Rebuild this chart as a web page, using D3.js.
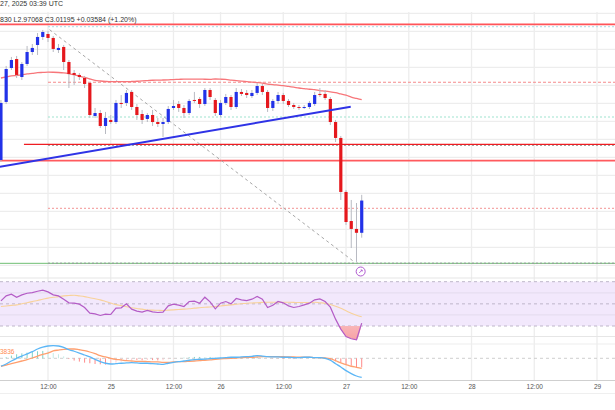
<!DOCTYPE html>
<html><head><meta charset="utf-8">
<script src="https://cdn.jsdelivr.net/npm/d3@7"></script>
<style>html,body{margin:0;padding:0;background:#fff;overflow:hidden}svg{display:block;font-family:"Liberation Sans",Arial,sans-serif}</style>
</head><body><svg id="c" width="615" height="410"></svg>
<script>
// ---------- DATA ----------
const opens  = [3.0570,3.1215,3.1592,3.1692,3.1492,3.1637,3.1770,3.1848,3.1937,3.1970,3.1926,3.1792,3.1826,3.1659,3.1537,3.1515,3.1481,3.1426,3.1059,3.1092,3.0948,3.1015,3.0992,3.1204,3.1204,3.1326,3.1159,3.1081,3.1026,3.1070,3.0992,3.0970,3.0992,3.1148,3.1192,3.1148,3.1092,3.1237,3.1248,3.1192,3.1348,3.1237,3.1070,3.1204,3.1270,3.1159,3.1326,3.1315,3.1281,3.1315,3.1392,3.1326,3.1148,3.1226,3.1292,3.1226,3.1181,3.1159,3.1148,3.1159,3.1192,3.1304,3.1304,3.1248,3.0992,3.0815,3.0215,2.9892,2.9804,2.97611];
const highs  = [3.1237,3.1615,3.1715,3.1726,3.1659,3.1837,3.1859,3.1981,3.2015,3.2004,3.1948,3.1859,3.1848,3.1681,3.1570,3.1537,3.1504,3.1437,3.1148,3.1126,3.1104,3.1070,3.1237,3.1292,3.1348,3.1348,3.1192,3.1126,3.1092,3.1126,3.1037,3.1037,3.1170,3.1237,3.1226,3.1181,3.1248,3.1326,3.1270,3.1370,3.1370,3.1259,3.1237,3.1304,3.1292,3.1370,3.1359,3.1348,3.1348,3.1426,3.1415,3.1348,3.1248,3.1326,3.1315,3.1248,3.1204,3.1181,3.1181,3.1226,3.1326,3.1370,3.1348,3.1270,3.1015,3.0837,3.0237,3.0126,3.0092,3.0183];
const lows   = [3.0548,3.1192,3.1570,3.1481,3.1459,3.1615,3.1737,3.1737,3.1904,3.1881,3.1770,3.1759,3.1570,3.1370,3.1404,3.1459,3.1370,3.1037,3.1037,3.0926,3.0859,3.0970,3.0970,3.1148,3.1170,3.1126,3.1015,3.0970,3.0992,3.0948,3.0937,3.0826,3.0970,3.1126,3.1104,3.1037,3.1070,3.1204,3.1148,3.1170,3.1237,3.1059,3.1048,3.1181,3.1126,3.1137,3.1281,3.1259,3.1259,3.1292,3.1292,3.1104,3.1115,3.1192,3.1192,3.1159,3.1137,3.1126,3.1137,3.1137,3.1170,3.1270,3.1237,3.0959,3.0770,3.0126,2.9848,2.9592,2.9437,2.97068];
const closes = [3.1204,3.1581,3.1681,3.1515,3.1637,3.1770,3.1815,3.1937,3.1992,3.1926,3.1804,3.1815,3.1659,3.1526,3.1515,3.1492,3.1415,3.1070,3.1092,3.0948,3.1037,3.0992,3.1204,3.1192,3.1315,3.1159,3.1070,3.1015,3.1070,3.0992,3.0970,3.0992,3.1137,3.1170,3.1148,3.1092,3.1226,3.1226,3.1192,3.1348,3.1270,3.1092,3.1204,3.1270,3.1159,3.1326,3.1304,3.1292,3.1315,3.1392,3.1326,3.1148,3.1226,3.1292,3.1226,3.1181,3.1159,3.1148,3.1159,3.1204,3.1292,3.1292,3.1259,3.0992,3.0815,3.0215,2.9881,2.9804,2.97611,3.01195];
const maValues = [3.1481,3.1493,3.1505,3.1509,3.1515,3.1526,3.1532,3.1540,3.1543,3.1546,3.1545,3.1542,3.1537,3.1528,3.1515,3.1503,3.1488,3.1470,3.1455,3.1448,3.1443,3.1440,3.1440,3.1440,3.1440,3.1442,3.1445,3.1450,3.1453,3.1456,3.1457,3.1459,3.1461,3.1464,3.1466,3.1469,3.1469,3.1469,3.1469,3.1467,3.1466,3.1470,3.1468,3.1465,3.1458,3.1452,3.1446,3.1441,3.1436,3.1430,3.1423,3.1412,3.1408,3.1402,3.1396,3.1387,3.1379,3.1370,3.1364,3.1356,3.1351,3.1342,3.1336,3.1328,3.1318,3.1304,3.1290,3.1268,3.1254,3.1240];
const rsiValues = [52.7,57.2,58.7,56.0,58.1,59.6,60.2,61.4,62.3,60.8,58.1,57.2,54.2,50.9,50.6,49.7,46.7,41.6,41.0,39.5,40.7,40.4,46.1,46.4,50.0,45.2,43.4,42.5,44.0,42.8,42.2,42.5,48.2,49.7,48.8,47.6,52.1,52.4,50.6,56.0,51.8,45.5,50.6,52.1,50.0,54.8,53.6,53.0,54.2,56.6,54.2,46.7,48.8,52.1,50.9,48.2,46.7,47.6,49.1,50.6,53.6,54.5,52.1,47.0,36.2,27.2,20.5,18.5,17.6,32.6];
const rsiMA = [47.6,48.1,48.6,49.1,50.1,51.0,52.0,53.1,54.1,55.2,55.9,56.5,57.2,57.5,57.8,57.2,56.5,55.5,54.6,53.6,52.2,50.7,49.3,48.4,47.4,46.5,45.8,45.2,44.5,44.3,44.2,44.0,44.3,44.6,44.9,45.2,45.6,46.1,46.5,46.9,47.2,47.6,48.1,48.6,49.1,49.6,50.1,50.6,50.8,51.0,51.3,51.5,51.5,51.5,51.5,51.4,51.3,51.2,51.2,51.0,51.5,51.0,50.6,49.5,47.9,46.0,43.7,41.5,39.8,38.3];
const macdLine = [-5.3,-3.8,-1.8,0,1.5,2.9,4.4,6.2,7.5,8.2,8.4,8.2,7.3,5.7,4.7,3.5,2.2,0.9,-0.7,-2.2,-3.3,-3.8,-3.6,-3.3,-3.1,-2.9,-3.1,-3.3,-3.3,-3.6,-3.8,-4.0,-3.3,-2.7,-2.2,-1.8,-1.3,-0.9,-0.7,-0.5,-0.2,0,0.2,0.4,0.7,0.7,0.9,1.1,1.3,1.8,1.5,1.1,0.9,0.9,0.7,0.7,0.4,0.4,0.7,0.7,0.4,0.4,0,-1.3,-3.6,-5.8,-8.2,-10.2,-11.8,-12.7];
const signalLine = [-5.3,-4.5,-3.6,-2.7,-1.8,-0.9,0.2,1.5,2.6,3.5,4.9,5.5,6.0,6.2,6.2,5.7,5.1,4.2,3.1,1.8,0.9,0,-0.7,-1.1,-1.6,-1.8,-2.0,-2.0,-2.2,-2.4,-2.4,-2.7,-2.7,-2.4,-2.2,-2.2,-2.0,-1.8,-1.6,-1.3,-1.1,-0.7,-0.4,-0.2,0,0.2,0.4,0.7,0.7,0.9,1.1,1.1,1.1,1.1,1.1,0.9,0.9,0.7,0.7,0.7,0.4,0.4,0.2,-0.2,-1.6,-3.1,-4.2,-5.3,-6.0,-6.7];
const histValues = [0,0.7,1.8,2.7,3.3,3.8,4.2,4.7,4.9,4.7,3.5,2.7,1.3,-0.5,-1.5,-2.2,-2.9,-3.3,-3.8,-4.0,-4.2,-3.8,-2.9,-2.2,-1.5,-1.1,-1.1,-1.3,-1.1,-1.2,-1.4,-1.3,-0.6,-0.3,0,0.4,0.7,0.9,0.9,0.8,0.9,0.7,0.6,0.6,0.7,0.5,0.5,0.4,0.6,0.9,0.4,0,-0.2,-0.2,-0.4,-0.2,-0.5,-0.3,0,0,0,0,-0.2,-1.1,-2.0,-2.7,-4.0,-4.9,-5.8,-6.0];
const tickIndex = [9,21,33,42,54,66,78,90,102,114];
const tickLabels = ["12:00","25","12:00","26","12:00","27","12:00","28","12:00","29"];
const priceGrid = [2.94,2.96,2.98,3.00,3.02,3.04,3.06,3.08,3.10,3.12,3.14,3.16,3.18,3.20,3.22];
const rsiGrid = [40,60];
const rsiBands = [70,50,30];
const fibPrices = [3.2051,3.1434,3.1048,3.0731,3.0033,2.9422];
const hLinePrices = [3.2078,3.0744,3.0564,2.9422];
const hLineStart = [-0.2,4.4,-0.2,-0.2];
const trendIdx = [-0.2,66.9];
const trendPrice = [3.0496,3.1162];
const diagIdx = [9.3,67.6];
const diagPrice = [3.2018,2.9437];
const headerLine1 = "27, 2025 03:39 UTC";
const headerLine2 = "830 L2.97068 C3.01195 +0.03584 (+1.20%)";
const macdLabel = "3836";

// ---------- STYLES ----------
const UP = "#2232e8", DOWN = "#e5181d", WICK = "#b8bac2", GRID = "#ededed";
const fibColors = ["#b9e2ec","#f58a8c","#9fe3cf","#a5a5a5","#f5a9a9","#9aa0a0"];
const fibDash = ["2,2","3,2","2,2","2,2","2,2","2,2"];
const hLineColors = ["#ff5459","#ef1c22","#ff5a5e","#6fbf73"];
const hLineWidths = [1.8,1.4,1.8,1];

const svg = d3.select("#c");
const x = d3.scaleLinear().domain([9,114]).range([48,597]);
const yP = d3.scaleLinear().domain([3.00,3.22]).range([211.3,13.3]);
const yR = d3.scaleLinear().domain([30,70]).range([326,281.7]);
const yM = d3.scaleLinear().domain([0,10]).range([358.3,343.3]);
const W = 615;

// clip for main panel
const defs = svg.append("defs");
defs.append("clipPath").attr("id","mainClip").append("rect").attr("x",0).attr("y",11).attr("width",W).attr("height",266);
const grad = defs.append("linearGradient").attr("id","osGrad").attr("x1",0).attr("y1",0).attr("x2",0).attr("y2",1);
grad.append("stop").attr("offset","0%").attr("stop-color","#ffe3e3");
grad.append("stop").attr("offset","100%").attr("stop-color","#f7a3a6");
defs.append("clipPath").attr("id","osClip").append("rect").attr("x",0).attr("y",yR(30)).attr("width",W).attr("height",40);

// ---------- gridlines ----------
const g = svg.append("g");
g.selectAll("line.hg").data(priceGrid).join("line")
  .attr("x1",0).attr("x2",W).attr("y1",d=>yP(d)).attr("y2",d=>yP(d))
  .attr("stroke",GRID).attr("stroke-width",1.3);
g.selectAll("line.vg").data(tickIndex).join("line")
  .attr("x1",d=>x(d)).attr("x2",d=>x(d)).attr("y1",12).attr("y2",380)
  .attr("stroke",GRID).attr("stroke-width",1.3);

// panel separators
[278,336.5].forEach(yy=>svg.append("line").attr("x1",0).attr("x2",W).attr("y1",yy).attr("y2",yy).attr("stroke","#e6e6e6").attr("stroke-width",1.2));
svg.append("line").attr("x1",0).attr("x2",W).attr("y1",344).attr("y2",344).attr("stroke",GRID).attr("stroke-width",1.2);

// ---------- main panel ----------
const main = svg.append("g").attr("clip-path","url(#mainClip)");

// fib levels
main.selectAll("line.fib").data(fibPrices).join("line")
  .attr("x1",x(9)).attr("x2",W).attr("y1",d=>yP(d)).attr("y2",d=>yP(d))
  .attr("stroke",(d,i)=>fibColors[i]).attr("stroke-width",1.2).attr("stroke-dasharray",(d,i)=>fibDash[i]);

// horizontal lines
main.selectAll("line.hl").data(hLinePrices).join("line")
  .attr("x1",(d,i)=>x(hLineStart[i])).attr("x2",W).attr("y1",d=>yP(d)).attr("y2",d=>yP(d))
  .attr("stroke",(d,i)=>hLineColors[i]).attr("stroke-width",(d,i)=>hLineWidths[i]);
main.append("line").attr("x1",x(9)).attr("x2",W).attr("y1",yP(fibPrices[5])).attr("y2",yP(fibPrices[5]))
  .attr("stroke","#9aa0a0").attr("stroke-width",1).attr("stroke-dasharray","2,2");

// diagonal fib trend
main.append("line").attr("x1",x(diagIdx[0])).attr("y1",yP(diagPrice[0])).attr("x2",x(diagIdx[1])).attr("y2",yP(diagPrice[1]))
  .attr("stroke","#a8a8a8").attr("stroke-width",1).attr("stroke-dasharray","3,3");

// MA curve
main.append("path").datum(maValues)
  .attr("d",d3.line().x((d,i)=>x(i)).y(d=>yP(d)).curve(d3.curveMonotoneX))
  .attr("fill","none").attr("stroke","#f7767a").attr("stroke-width",1.3);

// candles
const idx = d3.range(closes.length);
main.selectAll("line.wick").data(idx).join("line")
  .attr("x1",i=>x(i)).attr("x2",i=>x(i)).attr("y1",i=>yP(highs[i])).attr("y2",i=>yP(lows[i]))
  .attr("stroke",WICK).attr("stroke-width",1);
main.selectAll("rect.body").data(idx).join("rect")
  .attr("x",i=>x(i)-1.6).attr("width",3.2)
  .attr("y",i=>yP(Math.max(opens[i],closes[i])))
  .attr("height",i=>Math.max(1,Math.abs(yP(opens[i])-yP(closes[i]))))
  .attr("fill",i=>closes[i]>=opens[i]?UP:DOWN);

// blue trend line
main.append("line").attr("x1",x(trendIdx[0])).attr("y1",yP(trendPrice[0])).attr("x2",x(trendIdx[1])).attr("y2",yP(trendPrice[1]))
  .attr("stroke","#2f33e6").attr("stroke-width",2);

// marker icon
const mk = svg.append("g").attr("transform",`translate(${x(68.8)},271.5)`);
mk.append("circle").attr("r",4.5).attr("fill","#fff").attr("stroke","#b05ad0").attr("stroke-width",1);
mk.append("path").attr("d","M-1.5,1.5 L1.5,-1.5 M0,-1.5 L1.5,-1.5 L1.5,0").attr("stroke","#b05ad0").attr("stroke-width",0.9).attr("fill","none");

// header text
svg.append("text").attr("x",0).attr("y",6).attr("font-size",7).attr("fill","#333").text(headerLine1);
svg.append("text").attr("x",0).attr("y",21.5).attr("font-size",7).attr("fill","#333").text(headerLine2);

// ---------- RSI panel ----------
const rsiG = svg.append("g");
rsiG.append("rect").attr("x",0).attr("y",yR(70)).attr("width",W).attr("height",yR(30)-yR(70)).attr("fill","#f2e8fc");
rsiG.selectAll("line.rg").data(rsiGrid).join("line")
  .attr("x1",0).attr("x2",W).attr("y1",d=>yR(d)).attr("y2",d=>yR(d)).attr("stroke","#e6def0").attr("stroke-width",1.2);
rsiG.selectAll("line.rb").data(rsiBands).join("line")
  .attr("x1",0).attr("x2",W).attr("y1",d=>yR(d)).attr("y2",d=>yR(d))
  .attr("stroke","#b8b0c4").attr("stroke-width",0.9).attr("stroke-dasharray","3,3");
// oversold fill
rsiG.append("path").datum(idx)
  .attr("d",d3.area().x(i=>x(i)).y0(yR(30)).y1(i=>yR(rsiValues[i])).curve(d3.curveMonotoneX))
  .attr("fill","url(#osGrad)").attr("clip-path","url(#osClip)");
rsiG.append("path").datum(rsiMA)
  .attr("d",d3.line().x((d,i)=>x(i)).y(d=>yR(d)).curve(d3.curveMonotoneX))
  .attr("fill","none").attr("stroke","#f8d29a").attr("stroke-width",1.1);
rsiG.append("path").datum(rsiValues)
  .attr("d",d3.line().x((d,i)=>x(i)).y(d=>yR(d)))
  .attr("fill","none").attr("stroke","#b45cc6").attr("stroke-width",1.2);

// ---------- MACD panel ----------
const mG = svg.append("g");
mG.append("line").attr("x1",0).attr("x2",W).attr("y1",yM(0)).attr("y2",yM(0)).attr("stroke","#c8c8c8").attr("stroke-width",0.9).attr("stroke-dasharray","3,3");
mG.selectAll("line.h").data(idx).join("line")
  .attr("x1",i=>x(i)).attr("x2",i=>x(i)).attr("y1",yM(0)).attr("y2",i=>yM(histValues[i]))
  .attr("stroke",i=>{const v=histValues[i],p=i>0?histValues[i-1]:0;return v>=0?(v>=p?"#7fd1c7":"#c4ebe6"):(v<=p?"#ff8a8a":"#ffc9cc");})
  .attr("stroke-width",1);
mG.append("path").datum(signalLine)
  .attr("d",d3.line().x((d,i)=>x(i)).y(d=>yM(d)).curve(d3.curveMonotoneX))
  .attr("fill","none").attr("stroke","#ff9f6e").attr("stroke-width",1.3);
mG.append("path").datum(macdLine)
  .attr("d",d3.line().x((d,i)=>x(i)).y(d=>yM(d)).curve(d3.curveMonotoneX))
  .attr("fill","none").attr("stroke","#5bb6f6").attr("stroke-width",1.3);
svg.append("text").attr("x",0).attr("y",354).attr("font-size",6.5).attr("fill","#ff8a50").text(macdLabel);

// ---------- x axis ----------
svg.append("line").attr("x1",0).attr("x2",W).attr("y1",380.5).attr("y2",380.5).attr("stroke","#cfcfcf").attr("stroke-width",1);
svg.append("line").attr("x1",0).attr("x2",W).attr("y1",393.5).attr("y2",393.5).attr("stroke","#efefef").attr("stroke-width",1);
const ax = svg.append("g").attr("transform","translate(0,381)")
  .call(d3.axisBottom(x).tickValues(tickIndex).tickFormat((d,i)=>tickLabels[i]).tickSize(0).tickPadding(3));
ax.select(".domain").remove();
ax.selectAll("text").attr("font-size",6.5).attr("fill","#555").attr("font-family","Liberation Sans, Arial, sans-serif");
</script></body></html>
